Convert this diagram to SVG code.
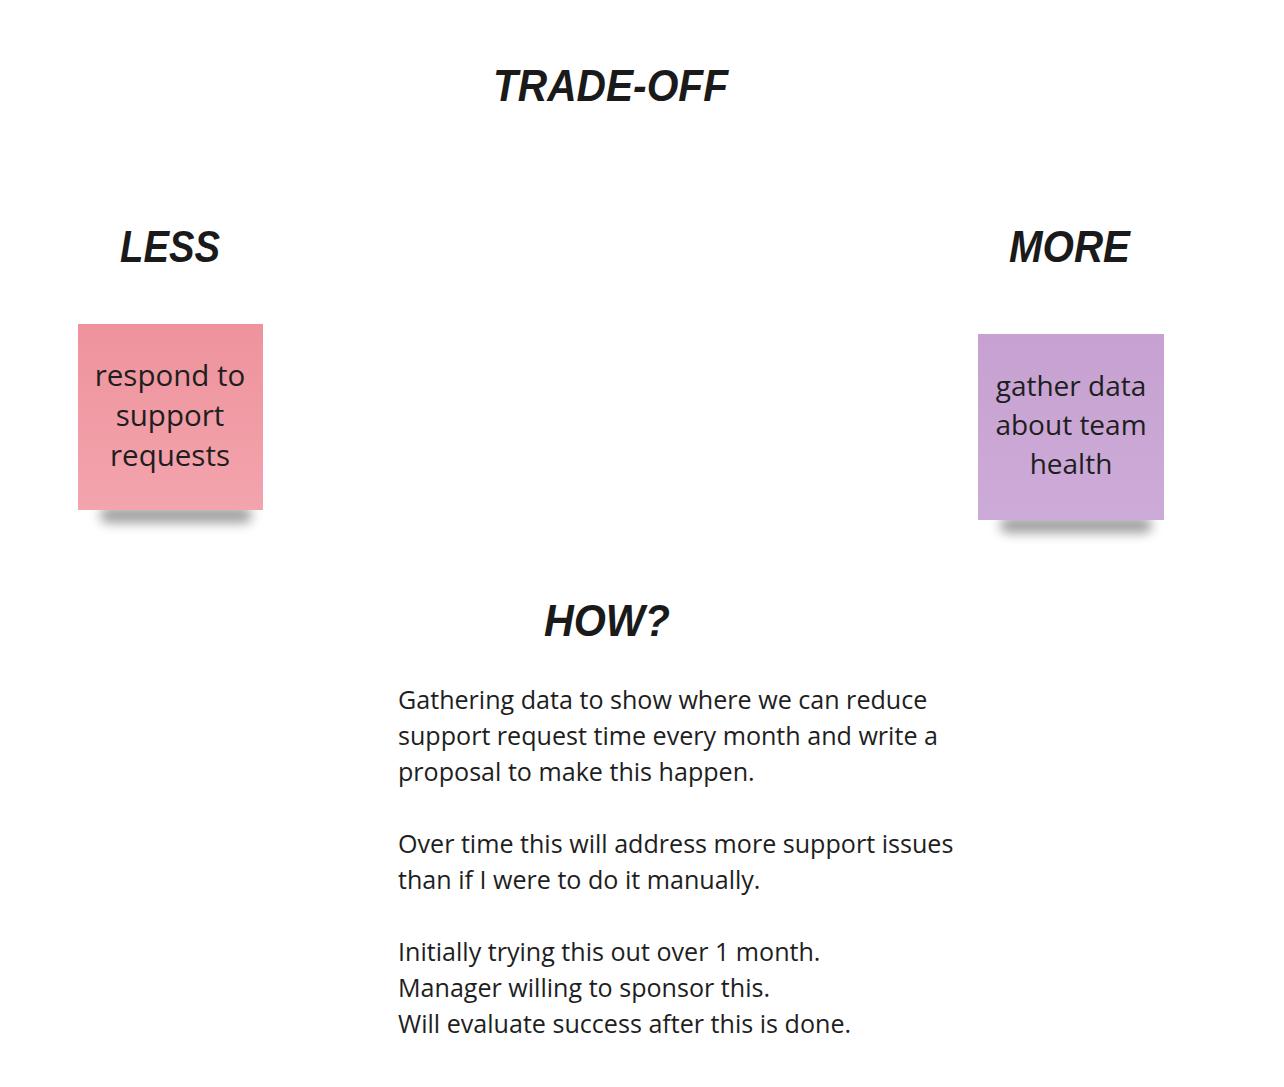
<svg xmlns="http://www.w3.org/2000/svg" width="1284" height="1087" viewBox="0 0 1284 1087">
<defs>
<linearGradient id="gPink" x1="0" y1="0" x2="0" y2="1"><stop offset="0" stop-color="#ee939d"/><stop offset="1" stop-color="#f3a4ad"/></linearGradient>
<linearGradient id="gPurple" x1="0" y1="0" x2="0" y2="1"><stop offset="0" stop-color="#c6a1d1"/><stop offset="1" stop-color="#cdabd8"/></linearGradient>
<filter id="blur" x="-20%" y="-100%" width="140%" height="300%"><feGaussianBlur stdDeviation="6"/></filter>
<style>
.head{font-family:"Liberation Sans",Arial,sans-serif;font-weight:bold;font-style:italic;fill:#1a1a1a;}
.sticky{font-family:"Open Sans","Noto Sans",sans-serif;font-size:28px;fill:#1e1e1e;text-anchor:middle;}
.sticky.big{font-size:29.5px;}
.body{font-family:"Open Sans","Noto Sans",sans-serif;font-size:25.1px;fill:#1e1e1e;}
.shadow{fill:#000;opacity:0.38;}
</style>
</defs>
<rect width="1284" height="1087" fill="#ffffff"/>
<g id="title"><text class="head" x="493" y="101" font-size="44" textLength="235" lengthAdjust="spacingAndGlyphs">TRADE-OFF</text></g>
<g id="less"><text class="head" x="120" y="262" font-size="44" textLength="100" lengthAdjust="spacingAndGlyphs">LESS</text></g>
<g id="more"><text class="head" x="1009" y="262" font-size="44" textLength="121" lengthAdjust="spacingAndGlyphs">MORE</text></g>
<g id="sticky-less">
<rect class="shadow" x="100" y="507" width="152" height="16" rx="8" filter="url(#blur)"/>
<rect x="78" y="324" width="185" height="186" fill="url(#gPink)"/>
<text class="sticky big" x="170" y="386">respond to</text>
<text class="sticky big" x="170" y="426">support</text>
<text class="sticky big" x="170" y="466">requests</text>
</g>
<g id="sticky-more">
<rect class="shadow" x="1000" y="517" width="152" height="16" rx="8" filter="url(#blur)"/>
<rect x="978" y="334" width="186" height="186" fill="url(#gPurple)"/>
<text class="sticky" x="1071" y="396">gather data</text>
<text class="sticky" x="1071" y="435">about team</text>
<text class="sticky" x="1071" y="474">health</text>
</g>
<g id="how"><text class="head" x="544" y="636" font-size="44" textLength="126" lengthAdjust="spacingAndGlyphs">HOW?</text></g>
<g id="body-text">
<text class="body" x="398" y="709">Gathering data to show where we can reduce</text>
<text class="body" x="398" y="745">support request time every month and write a</text>
<text class="body" x="398" y="781">proposal to make this happen.</text>
<text class="body" x="398" y="853">Over time this will address more support issues</text>
<text class="body" x="398" y="889">than if I were to do it manually.</text>
<text class="body" x="398" y="961">Initially trying this out over 1 month.</text>
<text class="body" x="398" y="997">Manager willing to sponsor this.</text>
<text class="body" x="398" y="1033">Will evaluate success after this is done.</text>
</g>
</svg>
